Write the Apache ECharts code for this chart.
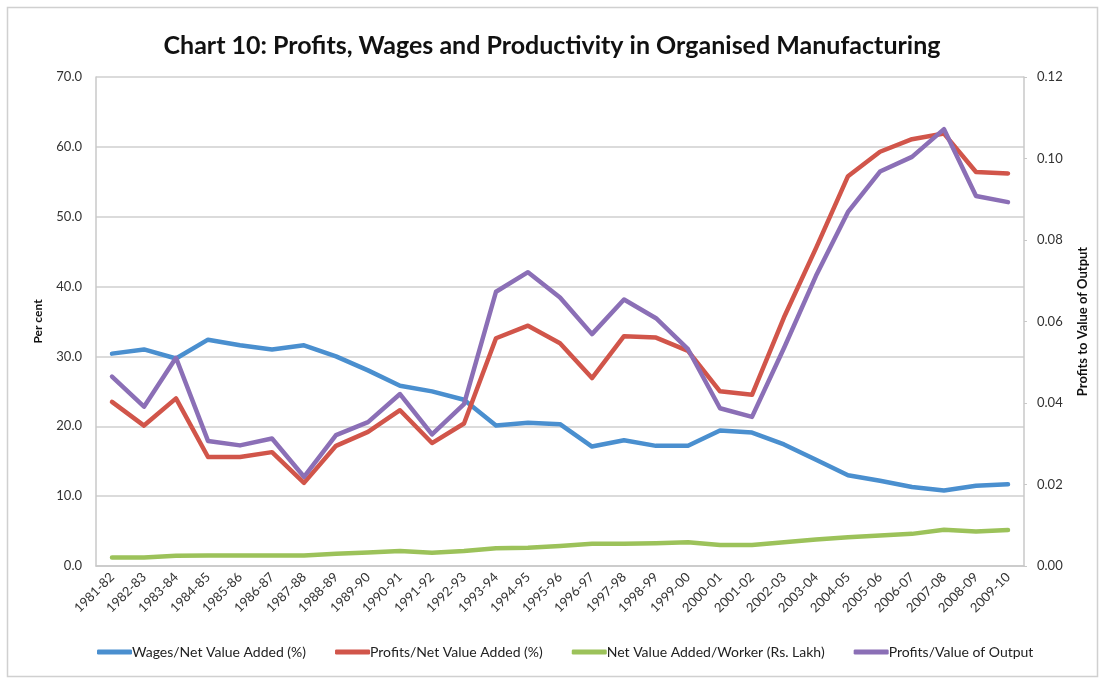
<!DOCTYPE html>
<html>
<head>
<meta charset="utf-8">
<script src="https://cdn.jsdelivr.net/npm/echarts@6/dist/echarts.min.js"></script>
<style>
html,body{margin:0;padding:0;background:#fff;}
#chart{width:1104px;height:678px;}
</style>
</head>
<body>
<div id="chart"></div>
<script>
var categories = ['1981-82','1982-83','1983-84','1984-85','1985-86','1986-87','1987-88','1988-89','1989-90','1990-91','1991-92','1992-93','1993-94','1994-95','1995-96','1996-97','1997-98','1998-99','1999-00','2000-01','2001-02','2002-03','2003-04','2004-05','2005-06','2006-07','2007-08','2008-09','2009-10'];
var wagesNVA = [30.4,31.0,29.7,32.4,31.6,31.0,31.6,30.0,28.0,25.8,25.0,23.8,20.1,20.5,20.3,17.1,18.0,17.2,17.2,19.4,19.1,17.4,15.2,13.0,12.2,11.3,10.8,11.5,11.7];
var profitsNVA = [23.5,20.1,24.0,15.6,15.6,16.3,11.9,17.2,19.2,22.3,17.6,20.4,32.6,34.4,31.9,26.9,32.9,32.7,30.8,25.0,24.5,35.6,45.5,55.8,59.3,61.1,61.9,56.4,56.2];
var nvaWorker = [1.2,1.2,1.45,1.5,1.5,1.5,1.5,1.75,1.95,2.15,1.9,2.15,2.55,2.6,2.85,3.2,3.2,3.25,3.4,3.0,3.0,3.4,3.8,4.1,4.35,4.6,5.2,4.95,5.15];
var profitsOutput = [0.0465,0.0391,0.0511,0.0307,0.0296,0.0313,0.0219,0.0321,0.0353,0.0422,0.0323,0.0397,0.0673,0.0721,0.0659,0.0569,0.0654,0.0608,0.0532,0.0387,0.0366,0.0535,0.0712,0.0869,0.0968,0.1004,0.1072,0.0908,0.0893];
var leftTicks = {min:0, max:70, interval:10};
var rightTicks = {min:0, max:0.12, interval:0.02};
var seriesNames = ['Wages/Net Value Added (%)','Profits/Net Value Added (%)','Net Value Added/Worker (Rs. Lakh)','Profits/Value of Output'];

var colors = ['#4a8fcf','#d1554a','#9cc25a','#8b6fb6'];
var font = 'Lato, "Open Sans", sans-serif';
var chart = echarts.init(document.getElementById('chart'));
function line(name, data, yIdx, color){
  return {name:name, type:'line', data:data, yAxisIndex:yIdx, symbol:'none',
    lineStyle:{width:4.5, color:color, cap:'round', join:'round'}, itemStyle:{color:color}, z: 3};
}
chart.setOption({
  animation:false,
  textStyle:{fontFamily:font},
  title:{text:'Chart 10: Profits, Wages and Productivity in Organised Manufacturing', left:'center', top:28,
    textStyle:{fontFamily:font, fontSize:25, fontWeight:'bold', color:'#111'}},
  graphic:[{type:'rect', shape:{x:7.5,y:7.5,width:1090,height:669}, style:{fill:'none', stroke:'#d0d0d0', lineWidth:1.5}, silent:true}],
  legend:{bottom:14, left:92, itemWidth:35, itemHeight:5, itemGap:29, icon:'roundRect',
    textStyle:{fontFamily:font, fontSize:14, color:'#222', padding:[0,0,0,-5]},
    data:seriesNames},
  grid:{left:96, right:80, top:77, bottom:112, containLabel:false},
  xAxis:{type:'category', data:categories, boundaryGap:true,
    axisLine:{lineStyle:{color:'#c8c8c8', width:1.5}}, axisTick:{show:false},
    axisLabel:{rotate:45, fontSize:13, color:'#333', margin:9, interval:0, fontFamily:font}},
  yAxis:[
    {type:'value', min:leftTicks.min, max:leftTicks.max, interval:leftTicks.interval, name:'Per cent',
      nameLocation:'middle', nameGap:52, nameRotate:90,
      nameTextStyle:{fontFamily:font, fontSize:12, fontWeight:'bold', color:'#111'},
      axisLine:{show:true, lineStyle:{color:'#c8c8c8', width:1.5}}, axisTick:{show:false},
      axisLabel:{formatter:function(v){return v.toFixed(1);}, fontSize:13, color:'#333', margin:14},
      splitLine:{lineStyle:{color:'#cfcfcf', width:1.5}}},
    {type:'value', min:rightTicks.min, max:rightTicks.max, interval:rightTicks.interval, name:'Profits to Value of Output',
      nameLocation:'middle', nameGap:52, nameRotate:90,
      nameTextStyle:{fontFamily:font, fontSize:13, fontWeight:'bold', color:'#111'},
      position:'right',
      axisLine:{show:true, lineStyle:{color:'#c8c8c8', width:1.5}},
      axisTick:{show:true, length:3, lineStyle:{color:'#c8c8c8'}},
      axisLabel:{formatter:function(v){return v.toFixed(2);}, fontSize:13, color:'#333', margin:13},
      splitLine:{show:false}}
  ],
  series:[
    line(seriesNames[0], wagesNVA, 0, colors[0]),
    line(seriesNames[1], profitsNVA, 0, colors[1]),
    line(seriesNames[2], nvaWorker, 0, colors[2]),
    line(seriesNames[3], profitsOutput, 1, colors[3])
  ]
});
</script>
</body>
</html>
